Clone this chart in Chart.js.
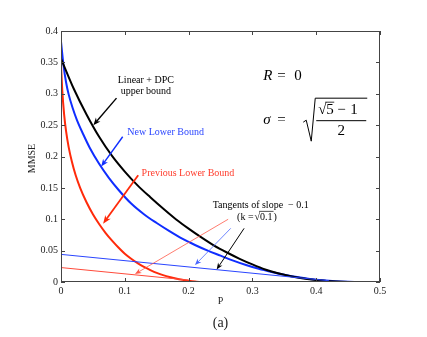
<!DOCTYPE html>
<html lang="en">
<head>
  <meta charset="UTF-8">
  <title>MMSE bounds vs P</title>
  <script src="https://cdn.jsdelivr.net/npm/chart.js"></script>
  <style>
    body { margin: 0; background: #fff; }
    canvas { display: block; }
  </style>
</head>
<body>
  <canvas id="mmseChart" width="427" height="337"></canvas>

  <script>
    // values: P on x, MMSE on y
    const upperP    = [0, 0.02, 0.04, 0.06, 0.08, 0.10, 0.12, 0.14, 0.16, 0.18, 0.20, 0.22, 0.24, 0.26, 0.28, 0.30, 0.32, 0.34, 0.36, 0.38, 0.40, 0.42, 0.44, 0.455];
    const upperMMSE = [0.356, 0.308, 0.267, 0.231, 0.201, 0.176, 0.154, 0.135, 0.117, 0.100, 0.085, 0.071, 0.058, 0.047, 0.037, 0.028, 0.020, 0.014, 0.0092, 0.0055, 0.003, 0.0013, 0.0003, 0];

    const newLowerP    = [0, 0.004, 0.008, 0.012, 0.018, 0.025, 0.035, 0.045, 0.06, 0.075, 0.09, 0.11, 0.13, 0.15, 0.17, 0.19, 0.21, 0.23, 0.25, 0.27, 0.29, 0.31, 0.33, 0.35, 0.37, 0.39, 0.41, 0.43, 0.45, 0.465];
    const newLowerMMSE = [0.383, 0.345, 0.318, 0.299, 0.278, 0.258, 0.235, 0.214, 0.188, 0.166, 0.147, 0.125, 0.108, 0.094, 0.081, 0.069, 0.059, 0.050, 0.042, 0.034, 0.027, 0.021, 0.016, 0.0115, 0.0078, 0.0048, 0.0026, 0.0011, 0.0003, 0];

    const prevLowerP    = [0, 0.002, 0.005, 0.008, 0.012, 0.017, 0.023, 0.03, 0.04, 0.05, 0.06, 0.07, 0.08, 0.09, 0.10, 0.11, 0.12, 0.13, 0.14, 0.15, 0.16, 0.17, 0.18, 0.19, 0.20, 0.21, 0.22, 0.5];
    const prevLowerMMSE = [0.346, 0.305, 0.266, 0.240, 0.215, 0.192, 0.170, 0.150, 0.127, 0.108, 0.092, 0.078, 0.066, 0.055, 0.045, 0.037, 0.030, 0.024, 0.019, 0.0145, 0.011, 0.008, 0.0055, 0.0035, 0.002, 0.0008, 0, 0];

    // tangents of slope -0.1
    const newTangentP    = [0, 0.42];
    const newTangentMMSE = [0.044, 0.002];
    const prevTangentP    = [0, 0.2];
    const prevTangentMMSE = [0.023, 0.003];

    const xTicks = [0, 0.1, 0.2, 0.3, 0.4, 0.5];
    const yTicks = [0, 0.05, 0.1, 0.15, 0.2, 0.25, 0.3, 0.35, 0.4];

    const BLUE = '#0f2dff';
    const RED = '#ff2a0a';
    const SERIF = '"Liberation Serif", "DejaVu Serif", serif';

    function pts(xs, ys) {
      return xs.map((x, i) => ({ x: x, y: ys[i] }));
    }

    // annotation arrows, in data coordinates (tail -> head)
    const arrows = [
      { from: [0.087, 0.293], to: [0.0507, 0.250], color: '#000', w: 1.4, head: 8 },
      { from: [0.0967, 0.2315], to: [0.063, 0.184], color: BLUE, w: 1.4, head: 8 },
      { from: [0.121, 0.170], to: [0.066, 0.093], color: RED, w: 1.8, head: 9 },
      { from: [0.262, 0.100], to: [0.116, 0.0127], color: '#ff5a4a', w: 0.8, head: 7 },
      { from: [0.266, 0.0855], to: [0.21, 0.027], color: '#4a68ff', w: 0.8, head: 7 },
      { from: [0.287, 0.0855], to: [0.244, 0.020], color: '#000', w: 1, head: 7 }
    ];

    function drawArrow(ctx, x0, y0, x1, y1, color, w, head) {
      const a = Math.atan2(y1 - y0, x1 - x0);
      ctx.save();
      ctx.strokeStyle = color;
      ctx.fillStyle = color;
      ctx.lineWidth = w;
      ctx.beginPath();
      ctx.moveTo(x0, y0);
      ctx.lineTo(x1 - Math.cos(a) * head * 0.6, y1 - Math.sin(a) * head * 0.6);
      ctx.stroke();
      ctx.beginPath();
      ctx.moveTo(x1, y1);
      ctx.lineTo(x1 - head * Math.cos(a - 0.38), y1 - head * Math.sin(a - 0.38));
      ctx.lineTo(x1 - head * 0.65 * Math.cos(a), y1 - head * 0.65 * Math.sin(a));
      ctx.lineTo(x1 - head * Math.cos(a + 0.38), y1 - head * Math.sin(a + 0.38));
      ctx.closePath();
      ctx.fill();
      ctx.restore();
    }

    function text(ctx, s, x, y, font, color, align) {
      ctx.font = font;
      ctx.fillStyle = color;
      ctx.textAlign = align || 'center';
      ctx.textBaseline = 'middle';
      ctx.fillText(s, x, y);
    }

    const decorations = {
      id: 'decorations',
      afterDatasetsDraw(chart) {
        const ctx = chart.ctx;
        const xs = chart.scales.x, ys = chart.scales.y;
        const area = chart.chartArea;
        const px = v => xs.getPixelForValue(v);
        const py = v => ys.getPixelForValue(v);

        // frame and inward ticks on all four sides
        ctx.save();
        ctx.strokeStyle = '#444';
        ctx.lineWidth = 1;
        ctx.strokeRect(area.left + 0.5, area.top + 0.5, area.right - area.left - 1, area.bottom - area.top - 1);
        ctx.beginPath();
        xTicks.forEach(v => {
          const x = Math.round(px(v)) + 0.5;
          ctx.moveTo(x, area.bottom); ctx.lineTo(x, area.bottom - 4);
          ctx.moveTo(x, area.top); ctx.lineTo(x, area.top + 4);
        });
        yTicks.forEach(v => {
          const y = Math.round(py(v)) + 0.5;
          ctx.moveTo(area.left, y); ctx.lineTo(area.left + 4, y);
          ctx.moveTo(area.right, y); ctx.lineTo(area.right - 4, y);
        });
        ctx.stroke();
        ctx.restore();

        arrows.forEach(a => drawArrow(ctx, px(a.from[0]), py(a.from[1]), px(a.to[0]), py(a.to[1]), a.color, a.w, a.head));

        const f10 = '10px ' + SERIF;
        text(ctx, 'Linear + DPC', px(0.133), py(0.321), f10, '#000');
        text(ctx, 'upper bound', px(0.133), py(0.303), f10, '#000');
        text(ctx, 'New Lower Bound', px(0.164), py(0.239), f10, '#2a45ff');
        text(ctx, 'Previous Lower Bound', px(0.199), py(0.173), f10, '#ff3b2b');
        text(ctx, 'Tangents of slope  \u2212 0.1', px(0.313), py(0.122), f10, '#000');

        // (k = sqrt(0.1))
        ctx.font = f10;
        let kx = px(0.276), ky = py(0.103);
        text(ctx, '(k =', kx, ky, f10, '#000', 'left');
        kx += ctx.measureText('(k =').width + 1;
        text(ctx, '\u221A', kx, ky, f10, '#000', 'left');
        kx += ctx.measureText('\u221A').width;
        const w01 = ctx.measureText('0.1').width;
        text(ctx, '0.1', kx, ky, f10, '#000', 'left');
        ctx.save();
        ctx.strokeStyle = '#000'; ctx.lineWidth = 0.7;
        ctx.beginPath(); ctx.moveTo(kx - 1, ky - 6); ctx.lineTo(kx + w01 + 1, ky - 6); ctx.stroke();
        ctx.restore();
        text(ctx, ')', kx + w01 + 1, ky, f10, '#000', 'left');

        // R = 0 and sigma formula
        const fi = 'italic 15px ' + SERIF;
        const fm = '15px ' + SERIF;
        const bx = px(0.317);
        const ry = py(0.328);
        text(ctx, 'R', bx, ry, fi, '#000', 'left');
        text(ctx, '=', bx + 14, ry, fm, '#000', 'left');
        text(ctx, '0', bx + 31, ry, fm, '#000', 'left');

        const sy = ry + 44;
        text(ctx, '\u03C3', bx, sy, fi, '#000', 'left');
        text(ctx, '=', bx + 14, sy, fm, '#000', 'left');
        ctx.save();
        ctx.strokeStyle = '#000';
        ctx.lineWidth = 1;
        ctx.beginPath();
        ctx.moveTo(bx + 40, sy + 2);
        ctx.lineTo(bx + 43, sy);
        ctx.lineTo(bx + 48, sy + 21);
        ctx.lineTo(bx + 52, sy - 22);
        ctx.lineTo(bx + 104, sy - 22);
        ctx.stroke();
        // fraction bar
        ctx.beginPath();
        ctx.moveTo(bx + 53, sy + 0.5);
        ctx.lineTo(bx + 103, sy + 0.5);
        ctx.stroke();
        ctx.restore();
        const ny = sy - 10;
        text(ctx, '\u221A', bx + 55, ny, fm, '#000', 'left');
        text(ctx, '5', bx + 63, ny, fm, '#000', 'left');
        ctx.save();
        ctx.strokeStyle = '#000'; ctx.lineWidth = 0.8;
        ctx.beginPath(); ctx.moveTo(bx + 62, ny - 8); ctx.lineTo(bx + 71, ny - 8); ctx.stroke();
        ctx.restore();
        text(ctx, '\u2212', bx + 74, ny, fm, '#000', 'left');
        text(ctx, '1', bx + 87, ny, fm, '#000', 'left');
        text(ctx, '2', bx + 78, sy + 11, fm, '#000');

        // axis titles and panel label
        text(ctx, 'P', px(0.25), area.bottom + 19, f10, '#222');
        ctx.save();
        ctx.translate(area.left - 29, py(0.2) + 2);
        ctx.rotate(-Math.PI / 2);
        text(ctx, 'MMSE', 0, 0, f10, '#222');
        ctx.restore();
        text(ctx, '(a)', px(0.25), area.bottom + 41, '14px ' + SERIF, '#222');
      }
    };

    const ctx = document.getElementById('mmseChart').getContext('2d');
    new Chart(ctx, {
      type: 'line',
      data: {
        datasets: [
          { data: pts(newTangentP, newTangentMMSE), borderColor: '#2a45ff', borderWidth: 1 },
          { data: pts(prevTangentP, prevTangentMMSE), borderColor: '#ff4a3a', borderWidth: 1 },
          { data: pts(prevLowerP, prevLowerMMSE), borderColor: RED, borderWidth: 2, cubicInterpolationMode: 'monotone' },
          { data: pts(upperP, upperMMSE), borderColor: '#000', borderWidth: 2, cubicInterpolationMode: 'monotone' },
          { data: pts(newLowerP, newLowerMMSE), borderColor: BLUE, borderWidth: 2, cubicInterpolationMode: 'monotone' }
        ]
      },
      options: {
        responsive: false,
        animation: false,
        layout: { padding: { top: 31, right: 47, left: 0, bottom: 0 } },
        elements: { point: { radius: 0 }, line: { fill: false } },
        plugins: { legend: { display: false }, tooltip: { enabled: false } },
        scales: {
          x: {
            type: 'linear', min: 0, max: 0.5,
            grid: { display: false, drawTicks: false },
            border: { display: false },
            afterFit: s => { s.height = 55; },
            afterBuildTicks: s => { s.ticks = xTicks.map(v => ({ value: v })); },
            ticks: { padding: 3, color: '#222', font: { family: SERIF, size: 10 }, maxRotation: 0,
              callback: v => String(Math.round(v * 100) / 100) }
          },
          y: {
            type: 'linear', min: 0, max: 0.4,
            grid: { display: false, drawTicks: false },
            border: { display: false },
            afterFit: s => { s.width = 61; },
            afterBuildTicks: s => { s.ticks = yTicks.map(v => ({ value: v })); },
            ticks: { padding: 3, color: '#222', font: { family: SERIF, size: 10 },
              callback: v => String(Math.round(v * 100) / 100) }
          }
        }
      },
      plugins: [decorations]
    });
  </script>
</body>
</html>
